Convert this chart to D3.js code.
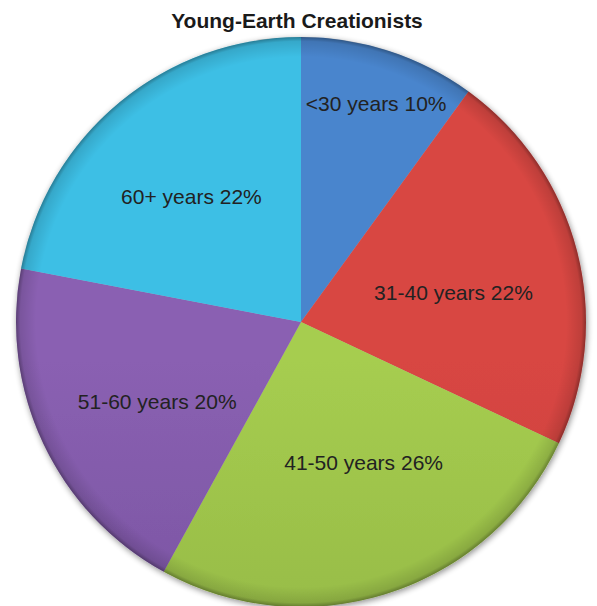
<!DOCTYPE html>
<html><head><meta charset="utf-8">
<script src="https://cdn.jsdelivr.net/npm/d3@7/dist/d3.min.js"></script>
<style>html,body{margin:0;padding:0;background:#fff;}svg{display:block;}</style>
</head><body>
<script>
const title = "Young-Earth Creationists";
const categories = ["<30 years", "31-40 years", "41-50 years", "51-60 years", "60+ years"];
const values = [10, 22, 26, 20, 22];
const colorsTop = ["#4a85cd", "#d84643", "#a6cd50", "#8a60b2", "#3cbfe5"];
const colorsBottom = ["#3a6cb0", "#b93735", "#86a83c", "#6a4a92", "#2a9fc2"];

const W = 597, H = 606;
const cx = 301, cy = 322, R = 285;
// label placement (radius fraction, angle nudge in degrees)
const labelR = [0.81, 0.545, 0.54, 0.577, 0.586];
const labelNudge = [1, 3.4, -6, -3.8, -1.4];

const svg = d3.select("body").append("svg").attr("width", W).attr("height", H);
const defs = svg.append("defs");

const f = defs.append("filter").attr("id", "shadow").attr("x", "-10%").attr("y", "-10%").attr("width", "120%").attr("height", "120%");
f.append("feGaussianBlur").attr("in", "SourceAlpha").attr("stdDeviation", 3).attr("result", "b");
f.append("feOffset").attr("in", "b").attr("dx", 1).attr("dy", 2).attr("result", "o");
f.append("feComponentTransfer").attr("in", "o").attr("result", "o2")
  .append("feFuncA").attr("type", "linear").attr("slope", 0.45);
const fm = f.append("feMerge");
fm.append("feMergeNode").attr("in", "o2");
fm.append("feMergeNode").attr("in", "SourceGraphic");

values.forEach((v, i) => {
  const g = defs.append("linearGradient").attr("id", "grad" + i)
    .attr("gradientUnits", "userSpaceOnUse")
    .attr("x1", cx).attr("y1", cy - R).attr("x2", cx).attr("y2", cy + R);
  g.append("stop").attr("offset", "0%").attr("stop-color", colorsTop[i]);
  g.append("stop").attr("offset", "100%").attr("stop-color", colorsBottom[i]);
});

const rim = defs.append("radialGradient").attr("id", "rim")
  .attr("gradientUnits", "userSpaceOnUse").attr("cx", cx).attr("cy", cy).attr("r", R);
rim.append("stop").attr("offset", "0.93").attr("stop-color", "#000").attr("stop-opacity", 0);
rim.append("stop").attr("offset", "0.985").attr("stop-color", "#000").attr("stop-opacity", 0.12);
rim.append("stop").attr("offset", "1").attr("stop-color", "#000").attr("stop-opacity", 0.35);

svg.append("text").attr("x", 297).attr("y", 28).attr("text-anchor", "middle")
  .attr("font-family", "Liberation Sans, Arial, sans-serif").attr("font-weight", "bold")
  .attr("font-size", 21).attr("fill", "#1a1a1a").text(title);

const pie = d3.pie().sort(null).value(d => d);
const arcs = pie(values);
const arc = d3.arc().innerRadius(0).outerRadius(R);

const g = svg.append("g").attr("transform", `translate(${cx},${cy})`);
const pieG = g.append("g").attr("filter", "url(#shadow)");

arcs.forEach((a, i) => {
  defs.append("clipPath").attr("id", "clip" + i)
    .append("path").attr("d", arc(a)).attr("transform", `translate(${cx},${cy})`);
});

pieG.selectAll("path.slice").data(arcs).join("path")
  .attr("class", "slice")
  .attr("d", arc)
  .attr("fill", (d, i) => `url(#grad${i})`);

// bevel highlight inside each slice
const bevel = svg.append("g");
arcs.forEach((a, i) => {
  bevel.append("path").attr("d", arc(a)).attr("transform", `translate(${cx},${cy})`)
    .attr("clip-path", `url(#clip${i})`)
    .attr("fill", "none").attr("stroke", "#fff").attr("stroke-opacity", 0.25).attr("stroke-width", 9);
  bevel.append("path").attr("d", arc(a)).attr("transform", `translate(${cx},${cy})`)
    .attr("clip-path", `url(#clip${i})`)
    .attr("fill", "none").attr("stroke", "#000").attr("stroke-opacity", 0.22).attr("stroke-width", 2.2);
});

g.append("circle").attr("r", R).attr("fill", "url(#rim)").attr("transform", `translate(${-cx},${-cy})`)
  .attr("cx", cx).attr("cy", cy);

g.selectAll("text.lbl").data(arcs).join("text")
  .attr("class", "lbl")
  .attr("transform", (d, i) => {
    const ang = (d.startAngle + d.endAngle) / 2 + labelNudge[i] * Math.PI / 180;
    const r = labelR[i] * R;
    return `translate(${r * Math.sin(ang)},${-r * Math.cos(ang)})`;
  })
  .attr("text-anchor", "middle").attr("dy", "0.36em")
  .attr("font-family", "Liberation Sans, Arial, sans-serif").attr("font-size", 21)
  .attr("fill", "#222")
  .text((d, i) => `${categories[i]} ${values[i]}%`);
</script>
</body></html>
